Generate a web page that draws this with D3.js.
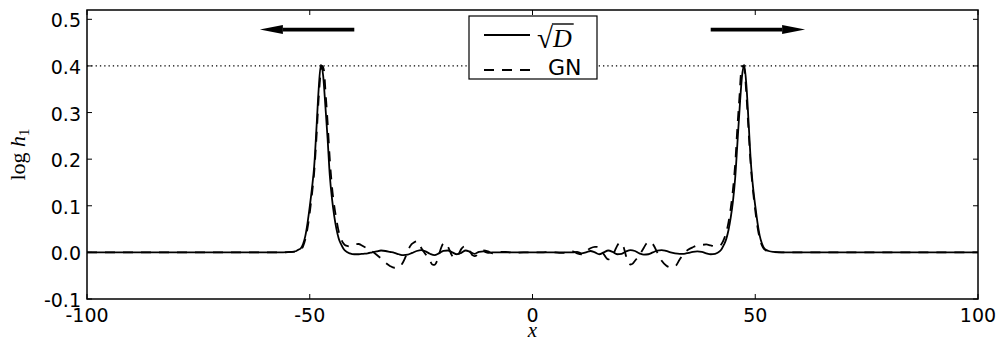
<!DOCTYPE html>
<meta charset="utf-8">
<style>
    body { margin: 0; background: white; }
    .tick-label { font-family: "DejaVu Sans", sans-serif; font-size: 19px; fill: black; }
    .math { font-family: "Liberation Serif", "DejaVu Serif", serif; fill: black; }
</style>
<body>
<script src="https://cdn.jsdelivr.net/npm/d3@7"></script>
<script>
    // axis ticks
    var xTicks = [-100, -50, 0, 50, 100],
        xTickLabels = ["-100", "-50", "0", "50", "100"],
        yTicks = [-0.1, 0, 0.1, 0.2, 0.3, 0.4, 0.5],
        yTickLabels = ["-0.1", "0.0", "0.1", "0.2", "0.3", "0.4", "0.5"];

    // sqrt(D) solution (solid)
    var sqrtD_x = [-100, -60, -56, -54, -53, -52.5, -52, -51.5, -51, -50.5, -50, -49.5, -49, -48.5, -48, -47.5,
        -47, -46.5, -46, -45.5, -45, -44.5, -44, -43.5, -43, -42.5, -42, -41, -40, -39, -38, -37, -36, -35,
        -34, -33, -32, -31, -30, -29, -28, -27, -26, -25, -24, -23, -22, -21, -20, -19, -18, -17, -16, -15,
        -14, -13, -12, -11, -10, -9, -8, 0, 8, 9, 10, 11, 12, 13, 14, 15, 16, 17, 18, 19, 20, 21, 22, 23, 24,
        25, 26, 27, 28, 29, 30, 31, 32, 33, 34, 35, 36, 37, 38, 39, 40, 41, 42, 42.5, 43, 43.5, 44, 44.5, 45,
        45.5, 46, 46.5, 47, 47.5, 48, 48.5, 49, 49.5, 50, 50.5, 51, 51.5, 52, 52.5, 53, 54, 56, 60, 100];
    var sqrtD_y = [0, 0, 0, 0.001, 0.003, 0.006, 0.009, 0.018, 0.035, 0.063, 0.098, 0.138, 0.185, 0.265, 0.35, 0.402,
        0.38, 0.315, 0.245, 0.165, 0.115, 0.078, 0.05, 0.03, 0.018, 0.009, 0.003, -0.002, -0.004, -0.004, -0.003, -0.002, 0, 0.002,
        0.004, 0.003, 0.001, -0.001, -0.004, -0.006, -0.005, -0.001, 0.003, 0.005, 0.002, -0.003, -0.006, -0.002, 0.003, 0.004, 0, -0.004, -0.001, 0.004,
        0.001, -0.003, 0.001, 0.002, -0.001, 0, 0, 0, 0, 0, 0.001, -0.002, 0, 0.003, 0, -0.004, 0, 0.004, 0.001, -0.004, -0.003, 0.002, 0.005, 0.003, -0.002,
        -0.005, -0.004, 0, 0.004, 0.005, 0.003, 0, -0.002, -0.003, -0.003, -0.001, 0.001, 0.002, 0.001, -0.002, -0.004, -0.003, 0.002, 0.008, 0.017, 0.029, 0.048, 0.075, 0.11,
        0.16, 0.235, 0.31, 0.375, 0.402, 0.36, 0.28, 0.195, 0.14, 0.1, 0.064, 0.036, 0.019, 0.009, 0.005, 0.003, 0.001, 0, 0, 0];

    // GN solution (dashed)
    var gn_x = [-100, -56, -54, -53, -52, -51.5, -51, -50.5, -50, -49.5, -49, -48.5, -48, -47.5, -47.2, -46.8, -46.5,
        -46, -45.5, -45, -44.5, -44, -43.5, -43, -42.5, -42, -41, -40, -39, -38.5, -38, -37, -36, -35, -34, -33, -32,
        -31, -30, -29, -28, -27.5, -26.5, -26, -25.5, -25, -24, -23, -22.5, -22, -21.5, -21, -20.5, -20, -19.5, -19,
        -18.5, -18, -17.5, -17, -16.5, -16, -15.5, -15, -14.5, -14, -13.5, -13, -12.5, -12, -11, -10, -9, -8, -7, -6,
        -4, -2, 0, 2, 4, 6, 7, 8, 9, 10, 11, 12, 12.5, 13, 14, 14.5, 15, 15.5, 16, 16.5, 17, 17.5, 18, 18.5, 19, 19.5,
        20, 20.5, 21, 21.5, 22, 22.5, 23, 24, 25, 25.5, 26, 26.5, 27, 28, 28.5, 29, 30, 31, 32, 33, 34, 35, 36, 37, 38,
        39, 40, 41, 42, 42.5, 43, 43.5, 44, 44.5, 45, 45.5, 46, 46.5, 46.8, 47.2, 47.6, 48, 48.5, 49, 49.5, 50, 50.5,
        51, 51.5, 52, 53, 54, 56, 100];
    var gn_y = [0, 0, 0.001, 0.002, 0.006, 0.013, 0.028, 0.052, 0.085, 0.125, 0.172, 0.245, 0.33, 0.39, 0.4, 0.39, 0.35,
        0.28, 0.2, 0.14, 0.1, 0.07, 0.045, 0.03, 0.02, 0.015, 0.013, 0.017, 0.018, 0.016, 0.013, 0.008, 0.002, -0.005, -0.013, -0.022, -0.029,
        -0.033, -0.032, -0.02, 0.002, 0.013, 0.022, 0.024, 0.02, 0.01, -0.004, -0.018, -0.026, -0.027, -0.02, -0.005, 0.01, 0.019, 0.02, 0.013,
        0.002, -0.008, -0.012, -0.01, -0.002, 0.007, 0.012, 0.013, 0.009, 0.001, -0.006, -0.008, -0.006, -0.001, 0.004, 0.002, -0.002, -0.002, 0.001, 0.001,
        -0.001, 0, 0, 0, 0.001, -0.001, -0.001, 0.002, 0.002, -0.002, -0.004, 0.001, 0.006, 0.009, 0.012, 0.012, 0.01, 0.004, -0.004, -0.011, -0.015, -0.013, -0.006, 0.004, 0.014, 0.02,
        0.02, 0.01, -0.008, -0.022, -0.026, -0.024, -0.018, -0.006, 0.01, 0.018, 0.022, 0.023, 0.018, 0, -0.01, -0.018, -0.028, -0.032, -0.03, -0.016, -0.002, 0.006, 0.011, 0.015, 0.016,
        0.017, 0.015, 0.013, 0.014, 0.019, 0.029, 0.043, 0.065, 0.095, 0.135, 0.19, 0.27, 0.34, 0.385, 0.4, 0.39, 0.34, 0.26, 0.185, 0.132, 0.09, 0.055,
        0.03, 0.015, 0.007, 0.002, 0.001, 0, 0];

    var refLevel = 0.4,               // dotted line
        arrowY = 0.478,
        arrows = [[-40, -61.2], [40, 61.2]];   // [tail, tip] in x units

    var W = 1001, H = 339,
        mLeft = 87, mRight = 978, mTop = 10, mBottom = 299;

    var x = d3.scaleLinear().domain([-100, 100]).range([mLeft, mRight]),
        y = d3.scaleLinear().domain([-0.1, 0.52]).range([mBottom, mTop]);

    var svg = d3.select('body').append('svg')
        .attr('width', W)
        .attr('height', H);

    svg.append('defs').append('clipPath').attr('id', 'plot')
        .append('rect').attr('x', mLeft).attr('y', mTop)
        .attr('width', mRight - mLeft).attr('height', mBottom - mTop);

    var plot = svg.append('g').attr('clip-path', 'url(#plot)');

    // dotted reference line
    plot.append('line')
        .attr('x1', x(-100)).attr('x2', x(100))
        .attr('y1', y(refLevel)).attr('y2', y(refLevel))
        .attr('stroke', 'black').attr('stroke-width', 1.3)
        .attr('stroke-dasharray', '1.3,3');

    var line = d3.line()
        .x(function(d) { return x(d[0]); })
        .y(function(d) { return y(d[1]); })
        .curve(d3.curveMonotoneX);

    plot.append('path')
        .datum(d3.zip(sqrtD_x, sqrtD_y))
        .attr('d', line)
        .attr('fill', 'none').attr('stroke', 'black').attr('stroke-width', 1.8);

    plot.append('path')
        .datum(d3.zip(gn_x, gn_y))
        .attr('d', line)
        .attr('fill', 'none').attr('stroke', 'black').attr('stroke-width', 1.8)
        .attr('stroke-dasharray', '10,8');

    // arrows
    arrows.forEach(function(a) {
        var x0 = x(a[0]), x1 = x(a[1]), yy = y(arrowY),
            dir = x1 > x0 ? 1 : -1,
            head = 23;
        svg.append('line')
            .attr('x1', x0).attr('x2', x1 - dir * head)
            .attr('y1', yy).attr('y2', yy)
            .attr('stroke', 'black').attr('stroke-width', 3.8);
        svg.append('path')
            .attr('d', 'M' + x1 + ',' + yy + 'L' + (x1 - dir * head) + ',' + (yy - 4.5) +
                'L' + (x1 - dir * head) + ',' + (yy + 4.5) + 'Z')
            .attr('fill', 'black');
    });

    // frame
    svg.append('rect')
        .attr('x', mLeft).attr('y', mTop)
        .attr('width', mRight - mLeft).attr('height', mBottom - mTop)
        .attr('fill', 'none').attr('stroke', 'black').attr('stroke-width', 1.5);

    // ticks, inward on all four sides
    var tl = 5;
    xTicks.forEach(function(t, i) {
        svg.append('line').attr('x1', x(t)).attr('x2', x(t))
            .attr('y1', mBottom).attr('y2', mBottom - tl).attr('stroke', 'black');
        svg.append('line').attr('x1', x(t)).attr('x2', x(t))
            .attr('y1', mTop).attr('y2', mTop + tl).attr('stroke', 'black');
        svg.append('text').attr('class', 'tick-label')
            .attr('x', x(t)).attr('y', 322)
            .attr('text-anchor', 'middle')
            .text(xTickLabels[i]);
    });
    yTicks.forEach(function(t, i) {
        svg.append('line').attr('x1', mLeft).attr('x2', mLeft + tl)
            .attr('y1', y(t)).attr('y2', y(t)).attr('stroke', 'black');
        svg.append('line').attr('x1', mRight).attr('x2', mRight - tl)
            .attr('y1', y(t)).attr('y2', y(t)).attr('stroke', 'black');
        svg.append('text').attr('class', 'tick-label')
            .attr('x', 81).attr('y', y(t) + 8)
            .attr('text-anchor', 'end')
            .text(yTickLabels[i]);
    });

    // axis labels
    var yl = svg.append('text').attr('class', 'math')
        .attr('transform', 'translate(25,' + ((mTop + mBottom) / 2) + ') rotate(-90)')
        .attr('text-anchor', 'middle')
        .style('font-size', '22px');
    yl.append('tspan').text('log ');
    yl.append('tspan').style('font-style', 'italic').text('h');
    yl.append('tspan').attr('dy', 4).style('font-size', '15px').text('1');

    svg.append('text').attr('class', 'math')
        .attr('x', x(0)).attr('y', 337)
        .attr('text-anchor', 'middle')
        .style('font-size', '21px').style('font-style', 'italic')
        .text('x');

    // legend
    var lg = svg.append('g');
    lg.append('rect')
        .attr('x', 469).attr('y', 16).attr('width', 128).attr('height', 63)
        .attr('fill', 'white').attr('stroke', 'black').attr('stroke-width', 1.2);
    lg.append('line').attr('x1', 484).attr('x2', 530).attr('y1', 35).attr('y2', 35)
        .attr('stroke', 'black').attr('stroke-width', 1.8);
    lg.append('line').attr('x1', 484).attr('x2', 530).attr('y1', 70).attr('y2', 70)
        .attr('stroke', 'black').attr('stroke-width', 1.8).attr('stroke-dasharray', '10,8');

    var rad = lg.append('text').attr('class', 'math')
        .attr('x', 537).attr('y', 48).style('font-size', '29px').text('\u221A');
    var radW = rad.node().getComputedTextLength();
    var dl = lg.append('text').attr('class', 'math')
        .attr('x', 537 + radW).attr('y', 47).style('font-size', '26px')
        .style('font-style', 'italic').text('D');
    var dW = dl.node().getComputedTextLength();
    lg.append('line')
        .attr('x1', 537 + radW - 1).attr('x2', 537 + radW + dW + 2)
        .attr('y1', 24).attr('y2', 24)
        .attr('stroke', 'black').attr('stroke-width', 1.4);

    lg.append('text').attr('class', 'tick-label')
        .attr('x', 548).attr('y', 75).style('font-size', '22px').text('GN');
</script>
</body>
